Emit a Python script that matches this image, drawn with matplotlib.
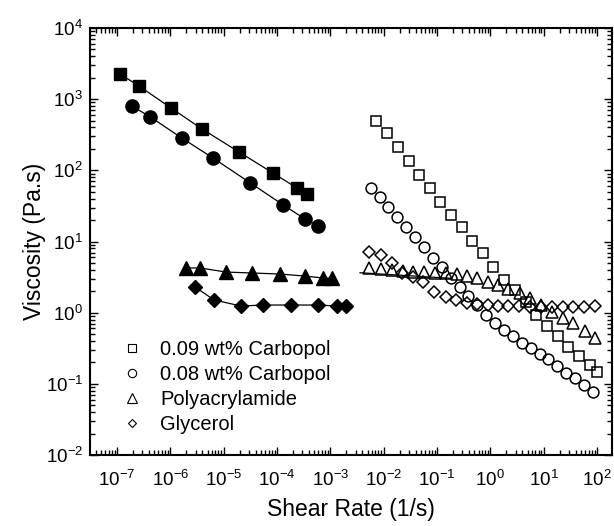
import matplotlib
matplotlib.use("Agg")
import matplotlib.pyplot as plt
from matplotlib.ticker import FixedLocator, LogLocator, NullFormatter

plt.rcParams['font.family'] = ['Liberation Sans', 'DejaVu Sans']
plt.rcParams['mathtext.fontset'] = 'custom'
plt.rcParams['mathtext.rm'] = 'Liberation Sans'

# low shear rate data (filled symbols, joined by lines)
sq_fill_x = [1.14e-7, 2.59e-7, 1.03e-6, 3.93e-6, 1.94e-5, 8.41e-5, 2.37e-4, 3.66e-4]
sq_fill_y = [2254, 1531, 752, 381, 181, 91.6, 56.5, 46.5]

ci_fill_x = [1.89e-7, 4.16e-7, 1.67e-6, 6.40e-6, 3.12e-5, 1.31e-4, 3.35e-4, 5.87e-4]
ci_fill_y = [802, 566, 282, 148, 67.0, 32.6, 20.7, 16.5]

tr_fill_x = [1.97e-6, 3.60e-6, 1.11e-5, 3.40e-5, 1.14e-4, 3.35e-4, 7.30e-4, 1.07e-3]
tr_fill_y = [4.25, 4.25, 3.72, 3.61, 3.49, 3.27, 3.07, 3.07]

di_fill_x = [2.90e-6, 6.59e-6, 2.11e-5, 5.47e-5, 1.83e-4, 5.87e-4, 1.33e-3, 1.97e-3]
di_fill_y = [2.30, 1.51, 1.24, 1.28, 1.28, 1.28, 1.24, 1.24]

# high shear rate data (open symbols)
carb09_x = [7.10e-3, 1.17e-2, 1.88e-2, 2.99e-2, 4.66e-2, 7.40e-2, 0.115, 0.181, 0.290, 0.459, 0.740,
            1.14, 1.81, 2.90, 4.67, 7.19, 11.6, 18.6, 28.6, 46.0, 74.0, 100]
carb09_y = [498, 331, 210, 135, 85.9, 55.8, 36.2, 23.6, 15.8, 10.3, 6.82,
            4.34, 2.88, 2.08, 1.41, 0.927, 0.650, 0.470, 0.330, 0.246, 0.184, 0.147]

carb08_x = [5.71e-3, 8.39e-3, 1.23e-2, 1.81e-2, 2.65e-2, 3.89e-2, 5.71e-2, 8.39e-2, 0.123, 0.181, 0.265,
            0.389, 0.571, 0.839, 1.23, 1.81, 2.65, 3.89, 5.71, 8.39, 12.3, 18.1, 26.5, 38.9, 57.1, 83.9]
carb08_y = [55.8, 41.8, 30.2, 21.9, 15.8, 11.7, 8.38, 5.86, 4.39, 3.07, 2.33,
            1.74, 1.30, 0.927, 0.716, 0.570, 0.470, 0.371, 0.316, 0.262, 0.221, 0.178, 0.144, 0.120, 0.0964, 0.0774]

paa_x = [5.38e-3, 8.81e-3, 1.42e-2, 2.28e-2, 3.60e-2, 5.78e-2, 9.18e-2, 0.148, 0.234, 0.371, 0.570,
         0.893, 1.38, 2.17, 3.61, 5.55, 8.91, 14.2, 22.8, 36.0, 59.6, 93.1]
paa_y = [4.20, 4.06, 3.97, 3.85, 3.77, 3.69, 3.64, 3.57, 3.46, 3.27, 3.04,
         2.72, 2.45, 2.13, 1.87, 1.59, 1.28, 1.03, 0.849, 0.710, 0.558, 0.437]

gly_x = [5.38e-3, 8.81e-3, 1.42e-2, 2.18e-2, 3.50e-2, 5.53e-2, 8.79e-2, 0.148, 0.227, 0.361, 0.570,
         0.916, 1.41, 2.17, 3.50, 5.55, 8.81, 14.2, 22.8, 36.0, 57.0, 91.8]
gly_y = [7.19, 6.46, 4.94, 3.64, 3.20, 2.72, 1.97, 1.67, 1.51, 1.38, 1.32,
         1.28, 1.24, 1.24, 1.24, 1.21, 1.21, 1.21, 1.21, 1.21, 1.21, 1.24]

# short fit line under the polyacrylamide points
paa_fit_x = [3.6e-3, 0.18]
paa_fit_y = [3.64, 3.04]

labels = ['0.09 wt% Carbopol', '0.08 wt% Carbopol', 'Polyacrylamide', 'Glycerol']
x_decades = [1e-7, 1e-6, 1e-5, 1e-4, 1e-3, 1e-2, 1e-1, 1e0, 1e1, 1e2]
y_decades = [1e-2, 1e-1, 1e0, 1e1, 1e2, 1e3, 1e4]

fig = plt.figure(figsize=(6.14, 5.26), dpi=100)
ax = fig.add_axes([90/614, 1 - 455/526, 522/614, 427/526])

#filled symbols with connecting lines
ax.plot(sq_fill_x, sq_fill_y, color='black', lw=0.9, marker='s', ms=8.5, mfc='black', mec='black')
ax.plot(ci_fill_x, ci_fill_y, color='black', lw=0.9, marker='o', ms=9.5, mfc='black', mec='black')
ax.plot(tr_fill_x, tr_fill_y, color='black', lw=0.9, marker='^', ms=9.5, mfc='black', mec='black')
ax.plot(di_fill_x, di_fill_y, color='black', lw=0.9, marker='D', ms=7, mfc='black', mec='black')

#open symbols
ax.plot(paa_fit_x, paa_fit_y, color='black', lw=0.9)
ax.plot(carb09_x, carb09_y, ls='none', marker='s', ms=7, mfc='none', mec='black', mew=1.1)
ax.plot(carb08_x, carb08_y, ls='none', marker='o', ms=7.8, mfc='none', mec='black', mew=1.1)
ax.plot(paa_x, paa_y, ls='none', marker='^', ms=8.5, mfc='none', mec='black', mew=1.1)
ax.plot(gly_x, gly_y, ls='none', marker='D', ms=6.3, mfc='none', mec='black', mew=1.1)

#legend with small open markers
handles = [
    plt.Line2D([], [], ls='none', marker='s', ms=6, mfc='none', mec='black', mew=0.8),
    plt.Line2D([], [], ls='none', marker='o', ms=6, mfc='none', mec='black', mew=0.8),
    plt.Line2D([], [], ls='none', marker='^', ms=6.5, mfc='none', mec='black', mew=0.8),
    plt.Line2D([], [], ls='none', marker='D', ms=4.5, mfc='none', mec='black', mew=0.8),
]
ax.legend(handles, labels, loc='upper left', bbox_to_anchor=((122 - 90)/522, (455 - 340)/427),
          frameon=False, fontsize=14.5, handlelength=1.0, handletextpad=0.9,
          borderpad=0, borderaxespad=0, labelspacing=0.3)

#axes setup
ax.set_xscale('log')
ax.set_yscale('log')
ax.set_xlim(3.12e-8, 191)
ax.set_ylim(1e-2, 1e4)
ax.xaxis.set_major_locator(FixedLocator(x_decades))
ax.yaxis.set_major_locator(FixedLocator(y_decades))
ax.xaxis.set_minor_locator(LogLocator(base=10, subs=range(2, 10), numticks=20))
ax.xaxis.set_minor_formatter(NullFormatter())
ax.yaxis.set_minor_locator(LogLocator(base=10, subs=range(2, 10), numticks=20))
ax.yaxis.set_minor_formatter(NullFormatter())

ax.tick_params(which='both', direction='in', top=True, right=True, width=1.0)
ax.tick_params(which='major', length=6, labelsize=13.5)
ax.tick_params(which='minor', length=3.5)
ax.tick_params(axis='x', which='major', pad=11)
ax.tick_params(axis='y', which='major', pad=5)
for s in ax.spines.values():
    s.set_linewidth(1.5)

ax.set_xlabel('Shear Rate (1/s)', fontsize=16.5)
ax.set_ylabel('Viscosity (Pa.s)', fontsize=16.5)
ax.xaxis.set_label_coords(0.5, -0.1)
ax.yaxis.set_label_coords(-0.085, 0.5)

fig.savefig('out.png', dpi=100)
